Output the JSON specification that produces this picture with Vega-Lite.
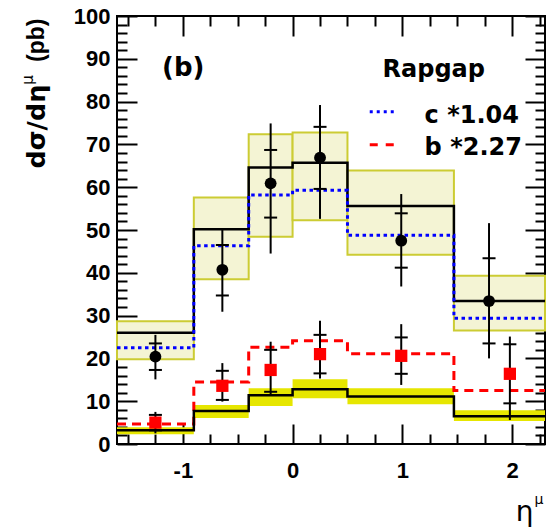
{
  "$schema": "https://vega.github.io/schema/vega-lite/v6.json",
  "width": 428,
  "height": 428,
  "autosize": {"type": "none"},
  "padding": {"left": 117, "top": 16, "right": 9, "bottom": 87},
  "background": "white",
  "config": {
    "view": {"stroke": "black", "strokeWidth": 2},
    "axis": {"grid": false, "domain": false, "tickColor": "black", "tickWidth": 2, "labelColor": "black", "titleColor": "black", "zindex": 1, "labelOverlap": false, "labelFlush": false}
  },
  "datasets": {
    "bins": [
      {"lo": -1.6, "hi": -0.9, "tot": 26.0, "sysLo": 19.8, "sysHi": 28.7, "c": 22.5, "b": 4.7, "bb": 3.2, "bLo": 2.3, "bHi": 3.9},
      {"lo": -0.9, "hi": -0.4, "tot": 50.2, "sysLo": 38.5, "sysHi": 57.6, "c": 46.3, "b": 14.5, "bb": 7.7, "bLo": 6.1, "bHi": 9.1},
      {"lo": -0.4, "hi": 0.0, "tot": 64.6, "sysLo": 48.4, "sysHi": 72.4, "c": 58.2, "b": 22.6, "bb": 11.4, "bLo": 8.9, "bHi": 13.0},
      {"lo": 0.0, "hi": 0.5, "tot": 65.7, "sysLo": 52.3, "sysHi": 72.8, "c": 59.3, "b": 24.1, "bb": 12.8, "bLo": 10.7, "bHi": 15.1},
      {"lo": 0.5, "hi": 1.47, "tot": 55.6, "sysLo": 44.2, "sysHi": 63.9, "c": 48.8, "b": 21.1, "bb": 11.1, "bLo": 9.3, "bHi": 13.0},
      {"lo": 1.47, "hi": 2.3, "tot": 33.4, "sysLo": 26.5, "sysHi": 39.3, "c": 29.4, "b": 12.5, "bb": 6.5, "bLo": 5.4, "bHi": 7.9}
    ],
    "pts": [
      {"set": "cb", "x": -1.25, "v": 20.4, "sLo": 17.3, "sHi": 23.5, "tLo": 15.1, "tHi": 25.5},
      {"set": "cb", "x": -0.64, "v": 40.7, "sLo": 34.7, "sHi": 46.5, "tLo": 30.9, "tHi": 50.4},
      {"set": "cb", "x": -0.2, "v": 60.9, "sLo": 52.9, "sHi": 68.7, "tLo": 44.5, "tHi": 74.9},
      {"set": "cb", "x": 0.25, "v": 66.9, "sLo": 59.6, "sHi": 74.1, "tLo": 52.6, "tHi": 79.2},
      {"set": "cb", "x": 0.99, "v": 47.5, "sLo": 41.2, "sHi": 53.9, "tLo": 36.8, "tHi": 58.4},
      {"set": "cb", "x": 1.79, "v": 33.4, "sLo": 23.5, "sHi": 43.4, "tLo": 20.0, "tHi": 51.6},
      {"set": "b", "x": -1.25, "v": 5.0, "sLo": 3.2, "sHi": 6.8, "tLo": 2.5, "tHi": 7.5},
      {"set": "b", "x": -0.64, "v": 13.6, "sLo": 10.3, "sHi": 17.1, "tLo": 9.9, "tHi": 18.9},
      {"set": "b", "x": -0.2, "v": 17.3, "sLo": 12.2, "sHi": 22.0, "tLo": 11.4, "tHi": 23.9},
      {"set": "b", "x": 0.25, "v": 21.0, "sLo": 16.5, "sHi": 25.5, "tLo": 15.3, "tHi": 28.8},
      {"set": "b", "x": 0.99, "v": 20.6, "sLo": 16.4, "sHi": 24.9, "tLo": 13.8, "tHi": 28.0},
      {"set": "b", "x": 1.98, "v": 16.4, "sLo": 9.5, "sHi": 23.3, "tLo": 5.6, "tHi": 25.1}
    ]
  },
  "layer": [
    {
      "data": {"name": "bins"},
      "mark": {"type": "rect", "fill": "#f4f4d4", "stroke": "#cccc33", "strokeWidth": 2},
      "encoding": {
        "x": {"field": "lo", "type": "quantitative", "scale": {"domain": [-1.6, 2.3], "nice": false, "zero": false},
          "axis": {"orient": "bottom", "values": [-1.5, -1.25, -1, -0.75, -0.5, -0.25, 0, 0.25, 0.5, 0.75, 1, 1.25, 1.5, 1.75, 2, 2.25],
            "tickSize": {"condition": {"test": "datum.value % 1 === 0", "value": -20}, "value": -10},
            "labelExpr": "datum.value % 1 === 0 ? (datum.value < 0 ? '-' + abs(datum.value) : '' + datum.value) : ''",
            "labelFont": "Liberation Sans", "labelFontWeight": "bold", "labelFontSize": 22, "labelPadding": 36,
            "title": "η", "titleFont": "DejaVu Sans", "titleFontWeight": "normal", "titleFontSize": 28,
            "titleX": 416, "titleY": 76, "titleAlign": "right", "titleBaseline": "alphabetic", "titleAnchor": "end"}},
        "x2": {"field": "hi"},
        "y": {"field": "sysLo", "type": "quantitative", "scale": {"domain": [0, 100], "nice": false, "zero": false},
          "axis": {"orient": "left", "values": [0, 2, 4, 6, 8, 10, 12, 14, 16, 18, 20, 22, 24, 26, 28, 30, 32, 34, 36, 38, 40, 42, 44, 46, 48, 50, 52, 54, 56, 58, 60, 62, 64, 66, 68, 70, 72, 74, 76, 78, 80, 82, 84, 86, 88, 90, 92, 94, 96, 98, 100],
            "tickSize": {"condition": {"test": "datum.value % 10 === 0", "value": -20}, "value": -10},
            "labelExpr": "datum.value % 10 === 0 ? datum.label : ''",
            "labelFont": "Liberation Sans", "labelFontWeight": "bold", "labelFontSize": 22, "labelPadding": 27,
            "title": "dσ/dη", "titleFont": "DejaVu Sans", "titleFontWeight": "bold", "titleFontSize": 25.5,
            "titleX": -73, "titleY": 152, "titleAngle": 270, "titleAlign": "left", "titleBaseline": "alphabetic"}},
        "y2": {"field": "sysHi"}
      }
    },
    {
      "data": {"name": "bins"},
      "mark": {"type": "rect", "fill": "#e6e600"},
      "encoding": {
        "x": {"field": "lo", "type": "quantitative", "scale": {"domain": [-1.6, 2.3], "nice": false, "zero": false},
          "axis": {"orient": "top", "values": [-1.5, -1.25, -1, -0.75, -0.5, -0.25, 0, 0.25, 0.5, 0.75, 1, 1.25, 1.5, 1.75, 2, 2.25],
            "tickSize": {"condition": {"test": "datum.value % 1 === 0", "value": -20}, "value": -10},
            "labels": false, "title": null}},
        "x2": {"field": "hi"},
        "y": {"field": "bLo", "type": "quantitative", "scale": {"domain": [0, 100], "nice": false, "zero": false},
          "axis": {"orient": "right", "values": [0, 2, 4, 6, 8, 10, 12, 14, 16, 18, 20, 22, 24, 26, 28, 30, 32, 34, 36, 38, 40, 42, 44, 46, 48, 50, 52, 54, 56, 58, 60, 62, 64, 66, 68, 70, 72, 74, 76, 78, 80, 82, 84, 86, 88, 90, 92, 94, 96, 98, 100],
            "tickSize": {"condition": {"test": "datum.value % 10 === 0", "value": -20}, "value": -10},
            "labels": false, "title": null}},
        "y2": {"field": "bHi"}
      }
    },
    {
      "data": {"name": "bins"},
      "transform": [{"fold": ["lo", "hi"], "as": ["edge", "x"]}],
      "mark": {"type": "line", "color": "black", "strokeWidth": 2.5},
      "encoding": {
        "x": {"field": "x", "type": "quantitative", "scale": {"domain": [-1.6, 2.3], "nice": false, "zero": false}, "axis": null},
        "y": {"field": "tot", "type": "quantitative", "scale": {"domain": [0, 100], "nice": false, "zero": false}, "axis": null},
        "order": [{"field": "x", "type": "quantitative"}, {"field": "edge", "type": "nominal"}]
      }
    },
    {
      "data": {"name": "bins"},
      "transform": [{"fold": ["lo", "hi"], "as": ["edge", "x"]}],
      "mark": {"type": "line", "color": "#0000ff", "strokeWidth": 3, "strokeDash": [3.5, 3.5]},
      "encoding": {
        "x": {"field": "x", "type": "quantitative", "scale": {"domain": [-1.6, 2.3], "nice": false, "zero": false}, "axis": null},
        "y": {"field": "c", "type": "quantitative", "scale": {"domain": [0, 100], "nice": false, "zero": false}, "axis": null},
        "order": [{"field": "x", "type": "quantitative"}, {"field": "edge", "type": "nominal"}]
      }
    },
    {
      "data": {"name": "bins"},
      "transform": [{"fold": ["lo", "hi"], "as": ["edge", "x"]}],
      "mark": {"type": "line", "color": "#ff0000", "strokeWidth": 3, "strokeDash": [9, 6]},
      "encoding": {
        "x": {"field": "x", "type": "quantitative", "scale": {"domain": [-1.6, 2.3], "nice": false, "zero": false}, "axis": null},
        "y": {"field": "b", "type": "quantitative", "scale": {"domain": [0, 100], "nice": false, "zero": false}, "axis": null},
        "order": [{"field": "x", "type": "quantitative"}, {"field": "edge", "type": "nominal"}]
      }
    },
    {
      "data": {"name": "bins"},
      "transform": [{"fold": ["lo", "hi"], "as": ["edge", "x"]}],
      "mark": {"type": "line", "color": "black", "strokeWidth": 2.5},
      "encoding": {
        "x": {"field": "x", "type": "quantitative", "scale": {"domain": [-1.6, 2.3], "nice": false, "zero": false}, "axis": null},
        "y": {"field": "bb", "type": "quantitative", "scale": {"domain": [0, 100], "nice": false, "zero": false}, "axis": null},
        "order": [{"field": "x", "type": "quantitative"}, {"field": "edge", "type": "nominal"}]
      }
    },
    {
      "data": {"name": "pts"},
      "mark": {"type": "rule", "color": "black", "strokeWidth": 2},
      "encoding": {
        "x": {"field": "x", "type": "quantitative", "scale": {"domain": [-1.6, 2.3], "nice": false, "zero": false}, "axis": null},
        "y": {"field": "tLo", "type": "quantitative", "scale": {"domain": [0, 100], "nice": false, "zero": false}, "axis": null},
        "y2": {"field": "tHi"}
      }
    },
    {
      "data": {"name": "pts"},
      "transform": [{"fold": ["sLo", "sHi"], "as": ["end", "s"]}],
      "mark": {"type": "point", "shape": "stroke", "size": 169, "filled": false, "stroke": "black", "strokeWidth": 2, "opacity": 1},
      "encoding": {
        "x": {"field": "x", "type": "quantitative", "scale": {"domain": [-1.6, 2.3], "nice": false, "zero": false}, "axis": null},
        "y": {"field": "s", "type": "quantitative", "scale": {"domain": [0, 100], "nice": false, "zero": false}, "axis": null}
      }
    },
    {
      "data": {"name": "pts"},
      "transform": [{"filter": "datum.set === 'cb'"}],
      "mark": {"type": "point", "shape": "circle", "size": 140, "filled": true, "color": "black", "opacity": 1},
      "encoding": {
        "x": {"field": "x", "type": "quantitative", "scale": {"domain": [-1.6, 2.3], "nice": false, "zero": false}, "axis": null},
        "y": {"field": "v", "type": "quantitative", "scale": {"domain": [0, 100], "nice": false, "zero": false}, "axis": null}
      }
    },
    {
      "data": {"name": "pts"},
      "transform": [{"filter": "datum.set === 'b'"}],
      "mark": {"type": "point", "shape": "square", "size": 150, "filled": true, "color": "#ff0000", "opacity": 1},
      "encoding": {
        "x": {"field": "x", "type": "quantitative", "scale": {"domain": [-1.6, 2.3], "nice": false, "zero": false}, "axis": null},
        "y": {"field": "v", "type": "quantitative", "scale": {"domain": [0, 100], "nice": false, "zero": false}, "axis": null}
      }
    },
    {
      "data": {"values": [{}]},
      "mark": {"type": "rule", "color": "#0000ff", "strokeWidth": 3, "strokeDash": [3, 4]},
      "encoding": {
        "x": {"datum": 0.703, "type": "quantitative", "scale": {"domain": [-1.6, 2.3], "nice": false, "zero": false}, "axis": null},
        "x2": {"datum": 0.948},
        "y": {"datum": 77.6, "type": "quantitative", "scale": {"domain": [0, 100], "nice": false, "zero": false}, "axis": null}
      }
    },
    {
      "data": {"values": [{}]},
      "mark": {"type": "rule", "color": "#ff0000", "strokeWidth": 3, "strokeDash": [8, 8]},
      "encoding": {
        "x": {"datum": 0.703, "type": "quantitative", "scale": {"domain": [-1.6, 2.3], "nice": false, "zero": false}, "axis": null},
        "x2": {"datum": 0.948},
        "y": {"datum": 69.9, "type": "quantitative", "scale": {"domain": [0, 100], "nice": false, "zero": false}, "axis": null}
      }
    },
    {
      "data": {"values": [
        {"t": "(b)", "x": -1.19, "y": 86.0, "fs": 26},
        {"t": "Rapgap", "x": 0.82, "y": 85.75, "fs": 24},
        {"t": "c *1.04", "x": 1.203, "y": 74.9, "fs": 24},
        {"t": "b *2.27", "x": 1.203, "y": 67.5, "fs": 24}
      ]},
      "mark": {"type": "text", "font": "DejaVu Sans", "fontWeight": "bold", "align": "left", "baseline": "alphabetic", "color": "black"},
      "encoding": {
        "x": {"field": "x", "type": "quantitative", "scale": {"domain": [-1.6, 2.3], "nice": false, "zero": false}, "axis": null},
        "y": {"field": "y", "type": "quantitative", "scale": {"domain": [0, 100], "nice": false, "zero": false}, "axis": null},
        "text": {"field": "t"},
        "size": {"field": "fs", "type": "quantitative", "scale": null}
      }
    },
    {
      "data": {"values": [{}]},
      "mark": {"type": "text", "text": "(pb)", "font": "Liberation Sans", "fontWeight": "bold", "fontSize": 23, "align": "left", "baseline": "alphabetic", "angle": 270, "xOffset": -73, "color": "black"},
      "encoding": {
        "x": {"datum": -1.6, "type": "quantitative", "scale": {"domain": [-1.6, 2.3], "nice": false, "zero": false}, "axis": null},
        "y": {"datum": 89.25, "type": "quantitative", "scale": {"domain": [0, 100], "nice": false, "zero": false}, "axis": null}
      }
    },
    {
      "data": {"values": [{}]},
      "mark": {"type": "text", "text": "μ", "font": "DejaVu Sans", "fontSize": 15, "align": "center", "baseline": "middle", "angle": 270, "xOffset": -89, "color": "black"},
      "encoding": {
        "x": {"datum": -1.6, "type": "quantitative", "scale": {"domain": [-1.6, 2.3], "nice": false, "zero": false}, "axis": null},
        "y": {"datum": 85.05, "type": "quantitative", "scale": {"domain": [0, 100], "nice": false, "zero": false}, "axis": null}
      }
    },
    {
      "data": {"values": [{}]},
      "mark": {"type": "text", "text": "μ", "font": "DejaVu Sans", "fontSize": 14, "align": "center", "baseline": "middle", "xOffset": -6, "yOffset": 56, "color": "black"},
      "encoding": {
        "x": {"datum": 2.3, "type": "quantitative", "scale": {"domain": [-1.6, 2.3], "nice": false, "zero": false}, "axis": null},
        "y": {"datum": 0, "type": "quantitative", "scale": {"domain": [0, 100], "nice": false, "zero": false}, "axis": null}
      }
    }
  ],
  "resolve": {"axis": {"x": "independent", "y": "independent"}}
}
